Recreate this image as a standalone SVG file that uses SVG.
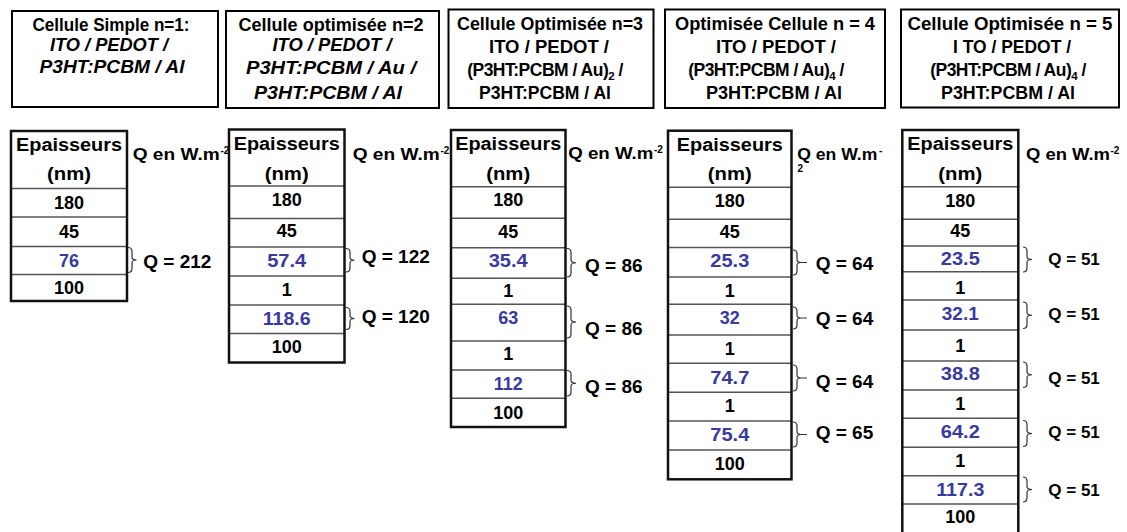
<svg xmlns="http://www.w3.org/2000/svg" width="1127" height="532" viewBox="0 0 1127 532">
<style>
text{font-family:"Liberation Sans",Arial,Helvetica,sans-serif;font-weight:bold;fill:#000}
.hb{fill:#fff;stroke:#000;stroke-width:2}
.tb{fill:none;stroke:#111;stroke-width:2.5}
.rl{stroke:#555;stroke-width:1.5}
.br{fill:none;stroke:#333;stroke-width:1.2}
.h{font-size:17.5px;text-anchor:middle}
.hs{font-size:17.5px;text-anchor:middle;letter-spacing:-0.5px}
.it{font-style:italic}
.ep{font-size:18px;text-anchor:middle}
.n{font-size:18px;text-anchor:middle}
.b{fill:#3a3a9e}
.q{font-size:19px}
.q5{font-size:17px}
.qw{font-size:16px}
.sp{font-size:10px}
.sub{font-size:11.5px}
</style>
<rect width="1127" height="532" fill="#fff"/>

<g id="header1">
<rect class="hb" x="12" y="11" width="206" height="96"/>
<text class="h" x="111" y="31" textLength="157" lengthAdjust="spacingAndGlyphs">Cellule Simple n=1:</text>
<text class="h it" x="109" y="51" textLength="118" lengthAdjust="spacingAndGlyphs">ITO / PEDOT /</text>
<text class="h it" x="112" y="72.5" textLength="145" lengthAdjust="spacingAndGlyphs">P3HT:PCBM / Al</text>
</g>
<g id="header2">
<rect class="hb" x="226" y="11" width="213" height="97"/>
<text class="h" x="331" y="31" textLength="185" lengthAdjust="spacingAndGlyphs">Cellule optimisée n=2</text>
<text class="h it" x="332" y="51" textLength="119" lengthAdjust="spacingAndGlyphs">ITO / PEDOT /</text>
<text class="h it" x="331" y="74" textLength="170" lengthAdjust="spacingAndGlyphs">P3HT:PCBM / Au /</text>
<text class="h it" x="328" y="99" textLength="148" lengthAdjust="spacingAndGlyphs">P3HT:PCBM / Al</text>
</g>
<g id="header3">
<rect class="hb" x="448.5" y="9.5" width="205" height="98.5"/>
<text class="h" x="550" y="30" textLength="186" lengthAdjust="spacingAndGlyphs">Cellule Optimisée n=3</text>
<text class="h" x="549" y="53" textLength="120" lengthAdjust="spacingAndGlyphs">ITO / PEDOT /</text>
<text class="hs" x="545" y="76">(P3HT:PCBM / Au)<tspan class="sub" dy="4">2</tspan><tspan dy="-4"> /</tspan></text>
<text class="h" x="545" y="99" textLength="132" lengthAdjust="spacingAndGlyphs">P3HT:PCBM / Al</text>
</g>
<g id="header4">
<rect class="hb" x="665" y="9.5" width="220" height="98.5"/>
<text class="h" x="775" y="30" textLength="200" lengthAdjust="spacingAndGlyphs">Optimisée Cellule n = 4</text>
<text class="h" x="776" y="53" textLength="120" lengthAdjust="spacingAndGlyphs">ITO / PEDOT /</text>
<text class="hs" x="766" y="76">(P3HT:PCBM / Au)<tspan class="sub" dy="4">4</tspan><tspan dy="-4"> /</tspan></text>
<text class="h" x="774" y="99" textLength="136" lengthAdjust="spacingAndGlyphs">P3HT:PCBM / Al</text>
</g>
<g id="header5">
<rect class="hb" x="901" y="9.5" width="218" height="98"/>
<text class="h" x="1010" y="29.5" textLength="205" lengthAdjust="spacingAndGlyphs">Cellule Optimisée n = 5</text>
<text class="h" x="1012" y="53" textLength="118" lengthAdjust="spacingAndGlyphs">I TO / PEDOT /</text>
<text class="hs" x="1008" y="76">(P3HT:PCBM / Au)<tspan class="sub" dy="4">4</tspan><tspan dy="-4"> /</tspan></text>
<text class="h" x="1008" y="99" textLength="134" lengthAdjust="spacingAndGlyphs">P3HT:PCBM / Al</text>
</g>

<g id="table1">
<line class="rl" x1="11" y1="188.5" x2="127" y2="188.5"/>
<line class="rl" x1="11" y1="217" x2="127" y2="217"/>
<line class="rl" x1="11" y1="246.5" x2="127" y2="246.5"/>
<line class="rl" x1="11" y1="274.5" x2="127" y2="274.5"/>
<rect class="tb" x="11" y="131" width="116" height="170"/>
<text class="ep" x="69" y="151" textLength="106" lengthAdjust="spacingAndGlyphs">Epaisseurs</text>
<text class="ep" x="69" y="180" textLength="44" lengthAdjust="spacingAndGlyphs">(nm)</text>
<text class="n" x="69" y="208.5">180</text>
<text class="n" x="69" y="238">45</text>
<text class="n b" x="69" y="266.5">76</text>
<text class="n" x="69" y="293.5">100</text>
<text class="qw" x="132.7" y="160" textLength="87" lengthAdjust="spacingAndGlyphs">Q en W.m</text>
<text class="sp" x="220.5" y="153.5">-2</text>
<text class="q" x="143.3" y="268.3">Q = 212</text>
</g>

<g id="table2">
<line class="rl" x1="229" y1="186" x2="344.5" y2="186"/>
<line class="rl" x1="229" y1="218.5" x2="344.5" y2="218.5"/>
<line class="rl" x1="229" y1="247" x2="344.5" y2="247"/>
<line class="rl" x1="229" y1="276" x2="344.5" y2="276"/>
<line class="rl" x1="229" y1="305" x2="344.5" y2="305"/>
<line class="rl" x1="229" y1="333.5" x2="344.5" y2="333.5"/>
<rect class="tb" x="229" y="129.5" width="115.5" height="233"/>
<text class="ep" x="286.7" y="150" textLength="106" lengthAdjust="spacingAndGlyphs">Epaisseurs</text>
<text class="ep" x="286.7" y="180" textLength="44" lengthAdjust="spacingAndGlyphs">(nm)</text>
<text class="n" x="286.7" y="205.5">180</text>
<text class="n" x="286.7" y="237">45</text>
<text class="n b" x="286.7" y="267" textLength="39" lengthAdjust="spacingAndGlyphs">57.4</text>
<text class="n" x="286.7" y="295.5">1</text>
<text class="n b" x="286.7" y="325" textLength="48" lengthAdjust="spacingAndGlyphs">118.6</text>
<text class="n" x="286.7" y="352.5">100</text>
<text class="qw" x="352.7" y="160" textLength="87" lengthAdjust="spacingAndGlyphs">Q en W.m</text>
<text class="sp" x="440.5" y="153.5">-2</text>
<text class="q" x="361.7" y="263.3">Q = 122</text>
<text class="q" x="361.7" y="323.3">Q = 120</text>
</g>

<g id="table3">
<line class="rl" x1="451" y1="186.7" x2="565.5" y2="186.7"/>
<line class="rl" x1="451" y1="218.3" x2="565.5" y2="218.3"/>
<line class="rl" x1="451" y1="247.7" x2="565.5" y2="247.7"/>
<line class="rl" x1="451" y1="278.3" x2="565.5" y2="278.3"/>
<line class="rl" x1="451" y1="304.3" x2="565.5" y2="304.3"/>
<line class="rl" x1="451" y1="341" x2="565.5" y2="341"/>
<line class="rl" x1="451" y1="370" x2="565.5" y2="370"/>
<line class="rl" x1="451" y1="398.3" x2="565.5" y2="398.3"/>
<rect class="tb" x="451" y="130" width="114.5" height="297"/>
<text class="ep" x="508.2" y="150" textLength="106" lengthAdjust="spacingAndGlyphs">Epaisseurs</text>
<text class="ep" x="508.2" y="180" textLength="44" lengthAdjust="spacingAndGlyphs">(nm)</text>
<text class="n" x="508.2" y="206">180</text>
<text class="n" x="508.2" y="238.3">45</text>
<text class="n b" x="508.2" y="267" textLength="39" lengthAdjust="spacingAndGlyphs">35.4</text>
<text class="n" x="508.2" y="297">1</text>
<text class="n b" x="508.2" y="323.5">63</text>
<text class="n" x="508.2" y="360">1</text>
<text class="n b" x="508.2" y="390">112</text>
<text class="n" x="508.2" y="418.5">100</text>
<text class="qw" x="568.3" y="159.3" textLength="85" lengthAdjust="spacingAndGlyphs">Q en W.m</text>
<text class="sp" x="654" y="153">-2</text>
<text class="q" x="585" y="271.7">Q = 86</text>
<text class="q" x="585" y="335">Q = 86</text>
<text class="q" x="585" y="392.7">Q = 86</text>
</g>

<g id="table4">
<line class="rl" x1="668" y1="187.3" x2="791.5" y2="187.3"/>
<line class="rl" x1="668" y1="219.3" x2="791.5" y2="219.3"/>
<line class="rl" x1="668" y1="247.5" x2="791.5" y2="247.5"/>
<line class="rl" x1="668" y1="277" x2="791.5" y2="277"/>
<line class="rl" x1="668" y1="304.3" x2="791.5" y2="304.3"/>
<line class="rl" x1="668" y1="335" x2="791.5" y2="335"/>
<line class="rl" x1="668" y1="363.3" x2="791.5" y2="363.3"/>
<line class="rl" x1="668" y1="392.3" x2="791.5" y2="392.3"/>
<line class="rl" x1="668" y1="421" x2="791.5" y2="421"/>
<line class="rl" x1="668" y1="450" x2="791.5" y2="450"/>
<rect class="tb" x="668" y="130.7" width="123.5" height="348.6"/>
<text class="ep" x="729.8" y="150.7" textLength="106" lengthAdjust="spacingAndGlyphs">Epaisseurs</text>
<text class="ep" x="729.8" y="180" textLength="44" lengthAdjust="spacingAndGlyphs">(nm)</text>
<text class="n" x="729.8" y="206.7">180</text>
<text class="n" x="729.8" y="238.3">45</text>
<text class="n b" x="729.8" y="267" textLength="39" lengthAdjust="spacingAndGlyphs">25.3</text>
<text class="n" x="729.8" y="297">1</text>
<text class="n b" x="729.8" y="323.5">32</text>
<text class="n" x="729.8" y="355">1</text>
<text class="n b" x="729.8" y="384" textLength="39" lengthAdjust="spacingAndGlyphs">74.7</text>
<text class="n" x="729.8" y="412">1</text>
<text class="n b" x="729.8" y="441" textLength="39" lengthAdjust="spacingAndGlyphs">75.4</text>
<text class="n" x="729.8" y="469.5">100</text>
<text class="qw" x="797.3" y="160" textLength="80" lengthAdjust="spacingAndGlyphs">Q en W.m</text>
<text class="sp" x="879" y="153.5">-</text>
<text class="sp" x="797.5" y="171.7">2</text>
<text class="q" x="815.7" y="270">Q = 64</text>
<text class="q" x="815.7" y="325">Q = 64</text>
<text class="q" x="815.7" y="387.7">Q = 64</text>
<text class="q" x="815.7" y="439.3">Q = 65</text>
</g>

<g id="table5">
<line class="rl" x1="902.3" y1="186.7" x2="1018.3" y2="186.7"/>
<line class="rl" x1="902.3" y1="219.3" x2="1018.3" y2="219.3"/>
<line class="rl" x1="902.3" y1="246" x2="1018.3" y2="246"/>
<line class="rl" x1="902.3" y1="271.7" x2="1018.3" y2="271.7"/>
<line class="rl" x1="902.3" y1="300" x2="1018.3" y2="300"/>
<line class="rl" x1="902.3" y1="330" x2="1018.3" y2="330"/>
<line class="rl" x1="902.3" y1="361" x2="1018.3" y2="361"/>
<line class="rl" x1="902.3" y1="390" x2="1018.3" y2="390"/>
<line class="rl" x1="902.3" y1="418.3" x2="1018.3" y2="418.3"/>
<line class="rl" x1="902.3" y1="447.3" x2="1018.3" y2="447.3"/>
<line class="rl" x1="902.3" y1="475.7" x2="1018.3" y2="475.7"/>
<line class="rl" x1="902.3" y1="504" x2="1018.3" y2="504"/>
<rect class="tb" x="902.3" y="130" width="116" height="405"/>
<text class="ep" x="960.3" y="150" textLength="106" lengthAdjust="spacingAndGlyphs">Epaisseurs</text>
<text class="ep" x="960.3" y="180" textLength="44" lengthAdjust="spacingAndGlyphs">(nm)</text>
<text class="n" x="960.3" y="206.7">180</text>
<text class="n" x="960.3" y="236.7">45</text>
<text class="n b" x="960.3" y="265" textLength="39" lengthAdjust="spacingAndGlyphs">23.5</text>
<text class="n" x="960.3" y="293.5">1</text>
<text class="n b" x="960.3" y="320" textLength="37" lengthAdjust="spacingAndGlyphs">32.1</text>
<text class="n" x="960.3" y="351.7">1</text>
<text class="n b" x="960.3" y="380" textLength="39" lengthAdjust="spacingAndGlyphs">38.8</text>
<text class="n" x="960.3" y="410">1</text>
<text class="n b" x="960.3" y="437.7" textLength="39" lengthAdjust="spacingAndGlyphs">64.2</text>
<text class="n" x="960.3" y="466.7">1</text>
<text class="n b" x="960.3" y="495.7" textLength="48" lengthAdjust="spacingAndGlyphs">117.3</text>
<text class="n" x="960.3" y="523.3">100</text>
<text class="qw" x="1026" y="160" textLength="84" lengthAdjust="spacingAndGlyphs">Q en W.m</text>
<text class="sp" x="1110.5" y="153.5">-2</text>
<text class="q5" x="1048.3" y="265">Q = 51</text>
<text class="q5" x="1048.3" y="320">Q = 51</text>
<text class="q5" x="1048.3" y="384">Q = 51</text>
<text class="q5" x="1048.3" y="438.3">Q = 51</text>
<text class="q5" x="1048.3" y="496">Q = 51</text>
</g>

<g id="connectors">
<path class="br" d="M128 247.5C131.5 247.5 132 249 132 251.5L132 257C132 259 133 260 136.5 260C133 260 132 261 132 263L132 268.5C132 271 131.5 272.5 128 272.5"/>
<path class="br" d="M346 248.5C349.5 248.5 350 250 350 252.5L350 257.25C350 259.25 351 260.25 354.5 260.25C351 260.25 350 261.25 350 263.25L350 268C350 270.5 349.5 272 346 272"/>
<path class="br" d="M346 307.5C349.5 307.5 350 309 350 311.5L350 315.5C350 317.5 351 318.5 354.5 318.5C351 318.5 350 319.5 350 321.5L350 325.5C350 328 349.5 329.5 346 329.5"/>
<path class="br" d="M567 248.5C570.5 248.5 571 250 571 252.5L571 259.75C571 261.75 572 262.75 576 262.75C572 262.75 571 263.75 571 265.75L571 273C571 275.5 570.5 277 567 277"/>
<path class="br" d="M567 306C570.5 306 571 307.5 571 310L571 319C571 321 572 322 576 322C572 322 571 323 571 325L571 334C571 336.5 570.5 338 567 338"/>
<path class="br" d="M567 370.5C570.5 370.5 571 372 571 374.5L571 380.25C571 382.25 572 383.25 576 383.25C572 383.25 571 384.25 571 386.25L571 392C571 394.5 570.5 396 567 396"/>
<path class="br" d="M793 250C796.5 250 797 251.5 797 254L797 259.5C797 261.5 798 262.5 801 262.5L807 262.5M801 262.5C798 262.5 797 263.5 797 265.5L797 271C797 273.5 796.5 275 793 275"/>
<path class="br" d="M793 307C796.5 307 797 308.5 797 311L797 315C797 317 798 318 801 318L807 318M801 318C798 318 797 319 797 321L797 325C797 327.5 796.5 329 793 329"/>
<path class="br" d="M793 365C796.5 365 797 366.5 797 369L797 375C797 377 798 378 801 378L807 378M801 378C798 378 797 379 797 381L797 387C797 389.5 796.5 391 793 391"/>
<path class="br" d="M793 422C796.5 422 797 423.5 797 426L797 431.5C797 433.5 798 434.5 801 434.5L807 434.5M801 434.5C798 434.5 797 435.5 797 437.5L797 443C797 445.5 796.5 447 793 447"/>
<path class="br" d="M1023 247C1026.5 247 1027 248.5 1027 251L1027 256.5C1027 258.5 1028 259.5 1032 259.5C1028 259.5 1027 260.5 1027 262.5L1027 268C1027 270.5 1026.5 272 1023 272"/>
<path class="br" d="M1023 302C1026.5 302 1027 303.5 1027 306L1027 312.25C1027 314.25 1028 315.25 1032 315.25C1028 315.25 1027 316.25 1027 318.25L1027 324.5C1027 327 1026.5 328.5 1023 328.5"/>
<path class="br" d="M1023 362C1026.5 362 1027 363.5 1027 366L1027 371.75C1027 373.75 1028 374.75 1032 374.75C1028 374.75 1027 375.75 1027 377.75L1027 383.5C1027 386 1026.5 387.5 1023 387.5"/>
<path class="br" d="M1023 420.5C1026.5 420.5 1027 422 1027 424.5L1027 430.5C1027 432.5 1028 433.5 1032 433.5C1028 433.5 1027 434.5 1027 436.5L1027 442.5C1027 445 1026.5 446.5 1023 446.5"/>
<path class="br" d="M1023 477C1026.5 477 1027 478.5 1027 481L1027 486.5C1027 488.5 1028 489.5 1032 489.5C1028 489.5 1027 490.5 1027 492.5L1027 498C1027 500.5 1026.5 502 1023 502"/>
</g>
</svg>
